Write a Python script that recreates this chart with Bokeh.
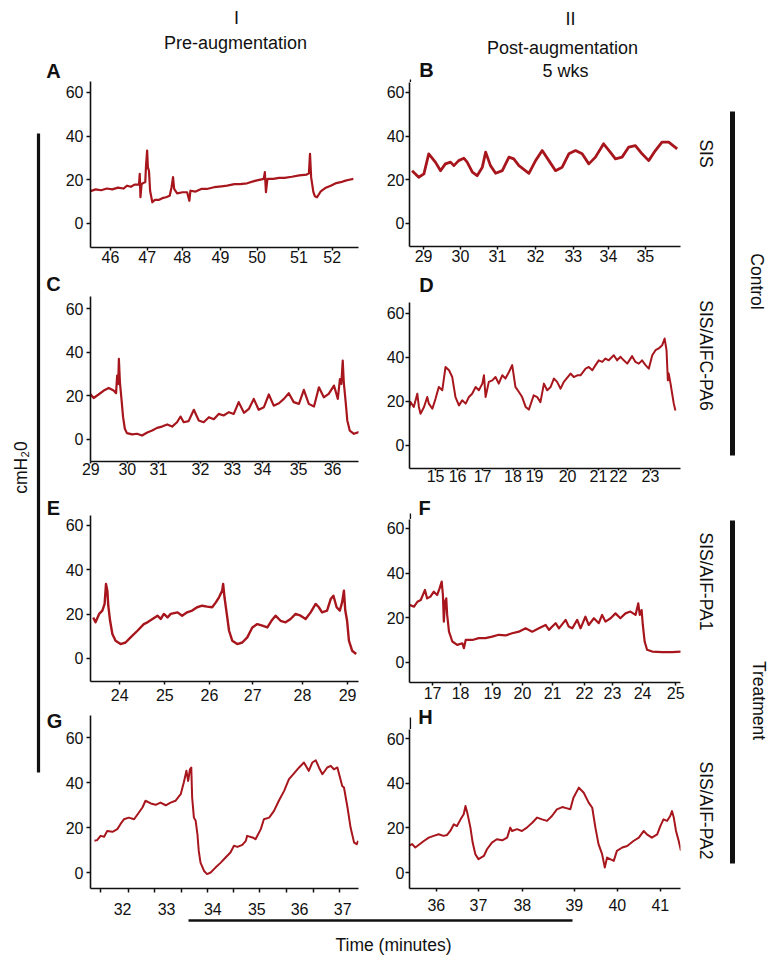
import math
from bokeh.plotting import figure
from bokeh.models import Range1d, FixedTicker, NumeralTickFormatter
from bokeh.layouts import row, column
from bokeh.embed import file_html
from bokeh.resources import INLINE
from bokeh.core.properties import value

FONT = "Liberation Sans"
RED = "#A8161D"
INK = "#111111"

# ---------------- data (time in minutes, pressure in cmH2O) ----------------
A_T = [45.46,45.6,45.75,45.9,46.05,46.2,46.35,46.45,46.55,46.65,46.77,46.79,46.81,46.84,46.9,46.94,46.96,46.99,47.01,47.04,47.07,47.13,47.2,47.3,47.4,47.5,47.6,47.65,47.69,47.72,47.8,47.95,48.07,48.13,48.16,48.3,48.45,48.6,48.8,49.0,49.15,49.35,49.5,49.69,49.9,50.14,50.17,50.2,50.24,50.4,50.55,50.7,50.9,51.1,51.3,51.36,51.39,51.42,51.48,51.52,51.58,51.68,51.8,51.95,52.1,52.22,52.35,52.45,52.56]
A_P = [14.8,15.6,15.2,16.0,15.6,16.4,16.0,17.3,16.8,17.8,17.8,22.7,12.0,18.1,18.6,19.0,26.5,33.4,25.8,24.0,15.0,9.7,10.8,10.8,11.6,12.0,12.7,16.6,21.2,15.8,13.8,14.3,14.3,10.4,15.0,14.6,15.8,15.8,16.6,17.0,17.3,18.0,18.0,18.4,19.5,20.4,23.5,14.3,20.4,20.4,20.9,20.9,21.4,22.0,22.4,23.0,31.9,21.2,14.5,12.5,12.0,14.7,16.2,17.3,18.5,18.9,19.6,20.0,20.4]

B_T = [28.69,28.87,29.01,29.14,29.32,29.46,29.59,29.73,29.82,29.95,30.09,30.18,30.32,30.45,30.59,30.68,30.81,30.95,31.13,31.31,31.44,31.58,31.85,32.03,32.21,32.39,32.57,32.75,32.93,33.11,33.29,33.47,33.65,33.87,34.05,34.19,34.37,34.55,34.73,34.91,35.09,35.27,35.45,35.63,35.86]
B_P = [24.2,21.2,22.7,31.9,28.1,24.2,27.3,28.1,26.5,28.8,29.9,28.1,23.5,21.9,25.8,32.7,26.5,23.0,24.2,30.4,29.6,26.5,23.0,28.8,33.4,28.8,24.2,25.8,31.9,33.4,31.9,27.3,30.4,36.5,32.7,29.6,30.4,35.0,35.7,31.9,28.8,33.4,37.3,37.3,34.2]

C_T = [29.04,29.18,29.32,29.47,29.61,29.75,29.82,29.85,29.88,29.90,29.93,29.97,30.02,30.07,30.13,30.28,30.42,30.56,30.71,30.85,30.99,31.13,31.28,31.42,31.56,31.66,31.75,31.89,32.04,32.18,32.32,32.47,32.61,32.75,32.89,33.04,33.18,33.32,33.47,33.61,33.75,33.89,34.04,34.18,34.32,34.47,34.61,34.75,34.89,35.04,35.18,35.32,35.47,35.61,35.75,35.89,36.04,36.15,36.21,36.25,36.29,36.32,36.37,36.42,36.49,36.61,36.75,36.85]
C_P = [21.6,19.0,20.6,22.4,23.6,22.4,21.2,29.2,25.4,36.9,26.2,19.3,10.2,4.9,2.9,2.3,2.6,1.8,3.2,4.1,5.3,5.9,6.9,5.9,7.9,10.5,7.9,8.4,13.6,8.7,7.9,10.2,9.3,11.7,11.0,12.5,11.7,17.1,12.2,14.0,18.6,13.6,14.8,20.6,15.5,16.6,18.6,21.2,17.1,16.3,22.7,16.3,15.1,23.9,19.3,20.9,24.7,18.6,27.7,25.4,36.1,26.2,17.8,8.7,4.1,2.6,3.4,2.9]

D_T = [14.0,14.07,14.19,14.32,14.38,14.44,14.57,14.69,14.75,14.88,15.0,15.12,15.25,15.37,15.50,15.62,15.74,15.87,15.99,16.12,16.24,16.36,16.49,16.61,16.74,16.80,16.86,16.98,17.11,17.23,17.35,17.48,17.60,17.73,17.85,17.97,18.10,18.22,18.35,18.47,18.65,18.78,18.90,19.03,19.15,19.28,19.40,19.52,19.65,19.77,20.02,20.14,20.27,20.39,20.58,20.70,20.83,20.95,21.07,21.20,21.32,21.44,21.63,21.75,21.88,22.00,22.13,22.31,22.43,22.56,22.68,22.81,22.93,23.06,23.18,23.30,23.43,23.52,23.59,23.64,23.67,23.74,23.80,23.86,23.92]
D_P = [15.9,19.7,17.5,23.5,17.5,14.4,17.5,22.0,19.0,16.7,21.3,26.6,25.1,35.7,34.2,31.1,22.0,18.2,20.5,19.0,22.0,23.5,26.6,25.1,28.1,31.9,22.0,28.9,29.6,31.1,28.1,31.9,30.4,33.4,36.5,26.6,24.3,22.0,17.5,16.3,22.8,22.0,19.7,28.1,25.1,26.6,30.4,28.9,25.8,28.9,32.7,31.1,31.9,31.9,34.9,35.7,34.2,36.5,38.7,38.0,39.5,38.7,41.0,38.7,40.3,38.7,37.2,40.6,38.0,37.2,38.7,36.5,34.9,41.0,43.3,44.1,45.6,48.6,43.3,29.6,32.7,28.1,23.5,19.0,15.9]

E_T = [23.42,23.47,23.55,23.62,23.67,23.70,23.73,23.75,23.79,23.84,23.91,24.02,24.13,24.24,24.39,24.53,24.61,24.72,24.83,24.90,24.97,25.05,25.12,25.27,25.37,25.48,25.59,25.70,25.81,25.92,26.03,26.11,26.18,26.25,26.27,26.30,26.35,26.40,26.47,26.58,26.69,26.80,26.91,27.02,27.13,27.24,27.33,27.42,27.53,27.64,27.75,27.86,27.97,28.08,28.19,28.30,28.37,28.44,28.55,28.63,28.69,28.76,28.83,28.88,28.92,28.95,28.99,29.03,29.10,29.19]
E_P = [18.5,16.3,20.1,21.6,24.6,33.6,30.6,23.8,17.0,11.0,8.0,6.5,7.2,9.5,12.5,15.5,16.3,17.8,19.3,17.8,20.1,18.5,20.1,20.8,19.3,20.8,21.6,23.1,23.8,23.4,23.1,25.3,27.6,30.6,33.6,27.6,20.1,12.5,8.0,6.5,7.2,9.5,14.0,15.5,14.8,14.0,17.0,19.3,17.0,16.3,17.8,20.1,19.3,17.8,20.8,24.6,23.1,20.8,21.6,26.8,28.3,23.1,21.6,25.3,30.6,21.6,17.0,8.0,3.5,2.0]

F_T = [16.24,16.39,16.50,16.61,16.75,16.82,16.93,17.04,17.15,17.23,17.30,17.34,17.37,17.41,17.45,17.48,17.54,17.65,17.81,17.98,18.03,18.09,18.31,18.52,18.74,18.96,19.18,19.40,19.62,19.84,20.06,20.28,20.50,20.72,20.83,20.94,21.05,21.16,21.38,21.48,21.60,21.76,21.87,22.03,22.14,22.31,22.47,22.58,22.69,22.86,23.02,23.18,23.35,23.51,23.68,23.77,23.82,23.88,23.92,23.98,24.06,24.23,24.56,24.88,25.21]
F_P = [25.8,25.0,27.2,28.0,32.5,28.7,29.5,31.7,30.2,33.2,36.2,30.2,18.3,27.2,28.7,21.3,13.8,9.4,7.9,8.6,6.4,10.1,10.1,10.9,10.9,11.6,12.4,12.1,13.1,13.8,15.3,13.8,15.3,16.8,14.6,16.1,17.6,15.3,19.1,16.1,15.3,19.1,15.3,20.5,16.8,19.8,17.6,21.3,18.3,19.8,22.0,19.8,22.0,22.8,21.3,26.5,21.3,23.5,16.8,9.4,5.7,4.9,4.6,4.6,4.9]

G_T = [31.36,31.42,31.50,31.58,31.65,31.77,31.88,31.95,32.03,32.14,32.26,32.37,32.45,32.52,32.64,32.75,32.86,32.98,33.09,33.20,33.32,33.39,33.45,33.49,33.53,33.56,33.58,33.62,33.66,33.70,33.73,33.77,33.85,33.92,34.00,34.11,34.23,34.34,34.45,34.53,34.61,34.72,34.80,34.83,34.95,35.02,35.14,35.21,35.33,35.44,35.55,35.67,35.78,35.89,36.01,36.12,36.23,36.31,36.39,36.46,36.54,36.65,36.73,36.80,36.88,36.95,36.99,37.03,37.11,37.18,37.26,37.32,37.35]
G_P = [14.1,14.4,16.3,15.9,18.5,18.1,19.3,21.5,23.7,24.4,23.7,26.7,28.9,31.9,30.7,30.1,31.1,29.9,31.1,31.9,34.8,40.0,45.2,40.7,45.9,46.7,33.3,24.4,23.0,17.0,9.6,4.4,0.7,-0.7,0.0,2.2,4.4,6.7,8.9,11.9,11.4,12.3,14.1,16.3,15.6,14.8,19.3,23.7,24.4,27.4,31.9,36.3,41.5,44.0,46.7,48.9,45.2,48.9,49.9,46.7,43.7,46.7,47.4,45.9,46.7,41.5,38.5,37.8,28.9,20.0,13.3,12.6,14.1]

H_T = [35.38,35.46,35.53,35.61,35.72,35.83,35.94,36.05,36.16,36.24,36.31,36.39,36.46,36.54,36.61,36.65,36.69,36.76,36.81,36.87,36.94,37.06,37.13,37.24,37.35,37.47,37.58,37.65,37.69,37.80,37.91,38.02,38.14,38.25,38.36,38.47,38.58,38.69,38.81,38.92,38.99,39.06,39.18,39.29,39.40,39.48,39.55,39.62,39.70,39.76,39.81,39.88,39.96,40.03,40.15,40.26,40.40,40.52,40.63,40.70,40.81,40.93,41.00,41.07,41.15,41.22,41.26,41.30,41.35,41.41,41.46]
H_P = [11.9,12.7,11.2,12.4,14.1,15.6,16.4,17.1,16.4,16.8,18.6,21.6,20.8,23.8,26.1,29.8,26.8,20.1,13.4,8.2,6.0,7.4,10.4,13.4,14.9,14.4,15.6,20.1,18.6,19.4,18.6,20.1,22.3,24.6,23.8,23.1,25.3,28.3,29.3,28.7,28.3,33.5,38.0,35.7,31.3,29.0,20.1,12.7,8.2,2.2,6.7,6.0,5.2,9.7,11.2,11.9,14.1,15.6,18.6,17.1,15.6,17.1,20.8,23.8,23.1,25.3,27.5,24.6,18.6,14.1,9.7]

# x tick positions (minutes) where the printed labels sit, and the labels
A_TICKS = [46, 46.99, 47.94, 48.97, 49.96, 51.09, 51.99]
A_LABELS = ["46", "47", "48", "49", "50", "51", "52"]
B_TICKS = [29, 30.0, 31.0, 32.03, 33.05, 34.0, 35.0]
B_LABELS = ["29", "30", "31", "32", "33", "34", "35"]
C_TICKS = [29.1, 30.14, 31.03, 32.23, 33.14, 34.0, 35.03, 36.0]
C_LABELS = ["29", "30", "31", "32", "33", "34", "35", "36"]
D_TICKS = [15, 15.82, 16.75, 17.88, 18.68, 19.91, 21.06, 21.80, 22.99]
D_LABELS = ["15", "16", "17", "18", "19", "20", "21", "22", "23"]
E_TICKS = [24, 24.99, 25.97, 26.92, 28.01, 29.0]
E_LABELS = ["24", "25", "26", "27", "28", "29"]
F_TICKS = [17, 17.92, 18.97, 19.96, 20.95, 22.0, 22.92, 23.91, 25.0]
F_LABELS = ["17", "18", "19", "20", "21", "22", "23", "24", "25"]
G_TICKS = [32, 33.0, 34.05, 35.05, 36.02, 37.0]
G_LABELS = ["32", "33", "34", "35", "36", "37"]
G_MARKS = [31.5, 32.14, 32.73, 33.34, 33.92, 34.53, 35.12, 35.73, 36.33, 36.93]
H_TICKS = [36, 36.94, 37.92, 39.08, 40.04, 41.0]
H_LABELS = ["36", "37", "38", "39", "40", "41"]
Y_TICKS = [0, 20, 40, 60]

LETTERS = ["A", "B", "C", "D", "E", "F", "G", "H"]
COLUMN_TITLES = ["I", "Pre-augmentation", "II", "Post-augmentation", "5 wks"]
ROW_NAMES = ["SIS", "SIS/AIFC-PA6", "SIS/AIF-PA1", "SIS/AIF-PA2"]
GROUPS = ["Control", "Treatment"]
Y_TITLE = "cmH\u20820"
X_TITLE = "Time (minutes)"

# ---------------- layout (page pixels; the page starts at 0,0) ----------------
W, H = 774, 959
X_LET, X_L, X_R, X_RS = 42, 62, 382, 690     # letters | left panels | right panels | right strip
Y_BOT = 918
# Bokeh aligns the frames of the plots stacked in one column, so each column shares one frame width
FL = (90, 358)      # left column frame, page x
FR = (409, 680)     # right column frame, page x

PANELS = [
    dict(key="A", col="L", y=(81, 273), fy=(81, 247), xr=(45.46, 52.70), yr=(-11.0, 65.0),
         t=A_T, p=A_P, ticks=A_TICKS, labels=A_LABELS, xto=3, xso=0, yso=3, lw=2.2),
    dict(key="B", col="R", y=(82, 273), fy=(82, 246), xr=(28.62, 35.95), yr=(-10.54, 64.58),
         t=B_T, p=B_P, ticks=B_TICKS, labels=B_LABELS, xto=3, xso=0, yso=1, lw=2.8),
    dict(key="C", col="L", y=(273, 494), fy=(296, 461), xr=(29.09, 36.74), yr=(-10.1, 65.5),
         t=C_T, p=C_P, ticks=C_TICKS, labels=C_LABELS, xto=2, xso=-1, yso=3, lw=2.2),
    dict(key="D", col="R", y=(296, 494), fy=(302, 468), xr=(14.03, 24.11), yr=(-10.5, 65.0),
         t=D_T, p=D_P, ticks=D_TICKS, labels=D_LABELS, xto=2, xso=-1, yso=1, lw=2.0),
    dict(key="E", col="L", y=(494, 708), fy=(515, 681), xr=(23.36, 29.24), yr=(-10.4, 64.5),
         t=E_T, p=E_P, ticks=E_TICKS, labels=E_LABELS, xto=3, xso=4, yso=3, lw=2.4),
    dict(key="F", col="R", y=(519, 705), fy=(519, 682), xr=(16.24, 25.16), yr=(-8.96, 64.03),
         t=F_T, p=F_P, ticks=F_TICKS, labels=F_LABELS, xto=3, xso=1, yso=1, lw=2.2),
    dict(key="G", col="L", y=(708, 918), fy=(715, 888), xr=(31.27, 37.36), yr=(-7.1, 69.8),
         t=G_T, p=G_P, ticks=G_TICKS, labels=G_LABELS, xto=0, xso=10, yso=3, lw=2.0, minor=G_MARKS),
    dict(key="H", col="R", y=(729, 918), fy=(729, 888), xr=(35.40, 41.45), yr=(-7.16, 64.03),
         t=H_T, p=H_P, ticks=H_TICKS, labels=H_LABELS, xto=3, xso=7, yso=1, lw=2.0),
]

COLS = {"L": ((X_L, X_R), FL), "R": ((X_R, X_RS), FR)}


def make_panel(cfg):
    (fl, fr), (l, r) = COLS[cfg["col"]]
    ft, fb = cfg["y"]
    t, b = cfg["fy"]
    p = figure(width=fr - fl, height=fb - ft, x_range=Range1d(*cfg["xr"]), y_range=Range1d(*cfg["yr"]),
               output_backend="svg", toolbar_location=None, tools="",
               min_border_left=l - fl, min_border_right=fr - r, min_border_top=t - ft, min_border_bottom=fb - b)
    p.outline_line_color = None
    p.grid.visible = False
    p.background_fill_color = "white"
    p.border_fill_color = "white"

    xa = p.xaxis[0]
    ya = p.yaxis[0]
    minor = cfg.get("minor", [])
    xa.ticker = FixedTicker(ticks=cfg["ticks"], minor_ticks=minor)
    xa.formatter = NumeralTickFormatter(format="0")
    xa.major_label_overrides = {float(tk): lb for tk, lb in zip(cfg["ticks"], cfg["labels"])}
    xa.major_tick_out = cfg["xto"]
    xa.major_label_standoff = cfg["xso"]
    if minor:
        xa.minor_tick_out = 4
        xa.minor_tick_in = 0
        xa.minor_tick_line_color = INK
        xa.minor_tick_line_width = 1.5
    else:
        xa.minor_tick_line_color = None

    ya.ticker = FixedTicker(ticks=Y_TICKS, minor_ticks=[])
    ya.major_tick_out = 4
    ya.major_label_standoff = cfg["yso"]
    ya.minor_tick_line_color = None

    for ax in (xa, ya):
        ax.axis_line_color = INK
        ax.axis_line_width = 1.6
        ax.major_tick_line_color = INK
        ax.major_tick_line_width = 1.5
        ax.major_tick_in = 0
        ax.major_label_text_font = FONT
        ax.major_label_text_font_size = "16px"
        ax.major_label_text_color = INK

    n = min(len(cfg["t"]), len(cfg["p"]))
    p.line(cfg["t"][:n], cfg["p"][:n], line_color=RED, line_width=cfg["lw"], line_join="round")
    return p


def strip(x0, x1, y0, y1, fx=None):
    """A blank figure whose data coordinates are page pixels (y measured upward from its bottom).
    fx: page x-extent of its frame (to share the column's frame alignment)."""
    fx0, fx1 = fx if fx else (x0, x1)
    p = figure(width=x1 - x0, height=y1 - y0, x_range=Range1d(fx0, fx1), y_range=Range1d(0, y1 - y0),
               output_backend="svg", toolbar_location=None, tools="",
               x_axis_type=None, y_axis_type=None,
               min_border_left=fx0 - x0, min_border_right=x1 - fx1, min_border_top=0, min_border_bottom=0)
    p.outline_line_color = None
    p.grid.visible = False
    p.background_fill_color = "white"
    p.border_fill_color = "white"
    up = lambda py: y1 - py
    return p, up


TXT = dict(text_font=value(FONT), text_font_size="17.5px", text_color=INK,
           text_align="center", text_baseline="middle")
HDR = dict(text_font=value(FONT), text_font_size="18px", text_color=INK,
           text_align="center", text_baseline="middle")
LET = dict(text_font=value(FONT), text_font_size="20px", text_font_style="bold", text_color=INK,
           text_align="center", text_baseline="middle")
STUB = dict(line_color=INK, line_width=1.6, line_cap="butt")
SX = FR[0] + 0.8    # upper axis stubs sit just inside the right column frame

panels = {cfg["key"]: make_panel(cfg) for cfg in PANELS}

# letters of the left panels, in their own narrow column
letL, uL = strip(X_LET, X_L, 0, Y_BOT)
letL.text(x=[53, 53, 53, 54], y=[uL(70), uL(283.5), uL(507.5), uL(720)],
          text=[LETTERS[0], LETTERS[2], LETTERS[4], LETTERS[6]], **LET)

# header over the left panels
hdrL, uh = strip(X_L, X_R, 0, 81, FL)
hdrL.text(x=[236, 235], y=[uh(17), uh(42)], text=COLUMN_TITLES[:2], **HDR)

# header over the right panels, with letter B and the top of B's vertical axis
hdrR, uhr = strip(X_R, X_RS, 0, 82, FR)
hdrR.text(x=[570, 562, 565], y=[uhr(18), uhr(47), uhr(70.5)], text=COLUMN_TITLES[2:], **HDR)
hdrR.text(x=[426], y=[uhr(69.5)], text=[LETTERS[1]], **LET)
hdrR.segment(x0=[SX], y0=[uhr(79)], x1=[SX], y1=[uhr(82)], **STUB)

sD, uD = strip(X_R, X_RS, 273, 296, FR)
sD.text(x=[426], y=[uD(284.5)], text=[LETTERS[3]], **LET)

sF, uF = strip(X_R, X_RS, 494, 519, FR)
sF.text(x=[424], y=[uF(507)], text=[LETTERS[5]], **LET)
sF.segment(x0=[SX], y0=[uF(513)], x1=[SX], y1=[uF(519)], **STUB)

sH, uHh = strip(X_R, X_RS, 705, 729, FR)
sH.text(x=[425], y=[uHh(716.5)], text=[LETTERS[7]], **LET)
sH.segment(x0=[SX], y0=[uHh(717)], x1=[SX], y1=[uHh(729)], **STUB)

# left strip: y-title and long bar
left, ul = strip(0, X_LET, 0, H)
left.segment(x0=[38], y0=[ul(133)], x1=[38], y1=[ul(772)], line_color=INK, line_width=3.2, line_cap="butt")
left.text(x=[20], y=[ul(467)], text=[Y_TITLE], angle=math.pi / 2, **TXT)

# right strip: row names and group bars
right, ur = strip(X_RS, W, 0, H)
right.text(x=[705] * 4, y=[ur(153), ur(355), ur(581), ur(810)], text=ROW_NAMES, angle=-math.pi / 2, **TXT)
right.segment(x0=[732, 732], y0=[ur(111), ur(520)], x1=[732, 732], y1=[ur(455), ur(863)],
              line_color=INK, line_width=5, line_cap="butt")
right.text(x=[756, 758], y=[ur(281), ur(700)], text=GROUPS, angle=-math.pi / 2, **TXT)

# bottom strip: time bracket and title
bottom, ub = strip(X_LET, X_RS, Y_BOT, H)
bottom.segment(x0=[188], y0=[ub(920)], x1=[572], y1=[ub(920)], line_color=INK, line_width=2.6, line_cap="butt")
bottom.text(x=[393], y=[ub(944)], text=[X_TITLE], **TXT)

col_left = column(hdrL, panels["A"], panels["C"], panels["E"], panels["G"])
col_right = column(hdrR, panels["B"], sD, panels["D"], sF, panels["F"], sH, panels["H"])
mid = column(row(letL, col_left, col_right), bottom)
root = row(left, mid, right)

open("out.html", "w").write(file_html(root, INLINE))
